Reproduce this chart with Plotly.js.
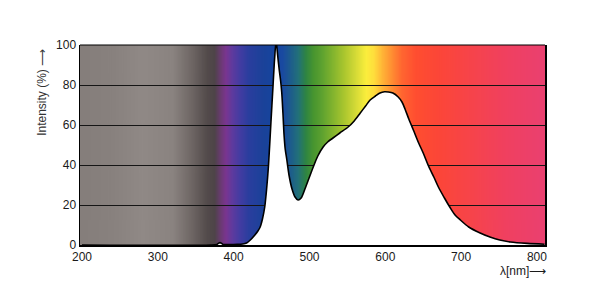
<!DOCTYPE html>
<html>
<head>
<meta charset="utf-8">
<script src="https://cdn.plot.ly/plotly-3.0.1.min.js"></script>
<style>html,body{margin:0;padding:0;background:#fff;}#chart{width:599px;height:305px;}</style>
</head>
<body>
<div id="chart"></div>
<script>
// Spectrum data (wavelength in nm, relative intensity in %)
const wavelength = [200, 370, 378, 382, 386, 395, 405, 412, 417, 422, 428, 432, 435, 438, 441, 443.5, 446, 449, 452, 454, 456, 458, 460, 462, 463.5, 465, 466.5, 468, 470, 473, 477, 481, 485, 489, 494, 499, 505, 511, 518, 524, 531, 540, 551, 559, 567, 574, 580, 587, 593, 599, 604, 610, 617, 622, 626, 631, 637, 644, 650, 657, 664, 670, 678, 685, 692, 699, 710, 725, 738, 751, 765, 787, 810];
const intensity  = [0,   0,   0.3, 1.2, 0.3, 0.2, 0.3, 0.5, 1,   2.5, 5,   7,   9,   13,  19,  28,    40,  60,  80,  93,  102, 95,  88,  82,  76,    66,  55,    48,  43,  35,  28,  24,  22.5, 23.5, 28, 33, 39, 44.5, 49, 51.5, 53.5, 56, 59, 62, 66, 69.5, 72.5, 74.5, 76, 76.6, 76.5, 76, 74, 71.5, 68, 63, 57.5, 51, 46, 39.5, 34, 29, 23.5, 19, 15, 12.5, 9, 6, 4, 2.5, 1.5, 0.8, 0.4];

// Background spectrum colours
const gradientNm = [200, 240, 280, 320, 345, 365, 375, 383, 390, 398, 408, 420, 440, 455, 465, 475, 485, 495, 505, 515, 530, 545, 560, 575, 585, 597, 610, 622, 640, 670, 710, 760, 810];
const gradientColors = ['#857e7b', '#88817e', '#908986', '#8a8380', '#6e6664', '#534b4b', '#4e4448', '#6a3a72', '#7a3590', '#5f3a9e', '#443ca2', '#2a3e9e', '#1a4299', '#1546a0', '#1a4aa0', '#1d5c8c', '#22707a', '#2e8444', '#47952f', '#5aa030', '#80b32e', '#a8c52e', '#d2d936', '#fbee3c', '#ffde3c', '#ffb236', '#ff8a32', '#ff6630', '#ff4e30', '#fc4638', '#f74449', '#f04060', '#ea4070'];

const yTicks = [0, 20, 40, 60, 80, 100];
const xTicks = [200, 300, 400, 500, 600, 700, 800];

const xRange = [197.4, 810.6];
const yRange = [0, 100];

// Build gradient image
const cv = document.createElement('canvas');
cv.width = 1200; cv.height = 4;
const ctx = cv.getContext('2d');
const grad = ctx.createLinearGradient(0, 0, cv.width, 0);
for (let i = 0; i < gradientNm.length; i++) {
  let f = (gradientNm[i] - xRange[0]) / (xRange[1] - xRange[0]);
  f = Math.min(1, Math.max(0, f));
  grad.addColorStop(f, gradientColors[i]);
}
ctx.fillStyle = grad;
ctx.fillRect(0, 0, cv.width, cv.height);
const bgSrc = cv.toDataURL('image/png');

const font = {family: 'Liberation Sans, Arial, sans-serif', size: 12, color: '#1a1a1a'};

const trace = {
  x: wavelength, y: intensity,
  type: 'scatter', mode: 'lines',
  line: {color: '#000', width: 1.6, shape: 'spline', smoothing: 0.8},
  fill: 'tozeroy', fillcolor: '#ffffff',
  hoverinfo: 'skip'
};

const layout = {
  width: 599, height: 305,
  margin: {l: 80, r: 54, t: 45, b: 60},
  paper_bgcolor: '#ffffff', plot_bgcolor: '#ffffff',
  showlegend: false,
  font: font,
  xaxis: {
    range: xRange, tickvals: xTicks, ticktext: xTicks.map(String),
    showgrid: false, zeroline: false, ticks: '',
    showline: true, linecolor: '#000', linewidth: 2, mirror: false,
    tickfont: font
  },
  yaxis: {
    range: yRange, tickvals: yTicks, ticktext: yTicks.map(String),
    showgrid: true, gridcolor: '#151515', gridwidth: 1,
    zeroline: false, ticks: '',
    showline: true, linecolor: '#000', linewidth: 1.5, mirror: true,
    tickfont: font
  },
  images: [{
    source: bgSrc, xref: 'x', yref: 'y',
    x: xRange[0], y: yRange[1], sizex: xRange[1] - xRange[0], sizey: yRange[1] - yRange[0],
    xanchor: 'left', yanchor: 'top', sizing: 'stretch', layer: 'below'
  }],
  shapes: [{
    type: 'line', xref: 'paper', yref: 'paper', x0: 0, x1: 1, y0: 1, y1: 1,
    line: {color: '#000', width: 1.2}, layer: 'above'
  }],
  annotations: [{
    text: '\u03BB[nm]\u27F6', xref: 'paper', yref: 'paper',
    x: 1.006, y: -0.13, xanchor: 'right', yanchor: 'middle', showarrow: false,
    font: {family: 'Liberation Sans, Arial, sans-serif', size: 12, color: '#1a1a1a'}
  }, {
    text: 'Intensity (%) \u27F6', xref: 'paper', yref: 'paper',
    x: -0.082, y: 0.765, xanchor: 'center', yanchor: 'middle', textangle: -90, showarrow: false,
    font: {family: 'Liberation Sans, Arial, sans-serif', size: 12, color: '#333'}
  }]
};

Plotly.newPlot('chart', [trace], layout, {displayModeBar: false, staticPlot: true});
</script>
</body>
</html>
